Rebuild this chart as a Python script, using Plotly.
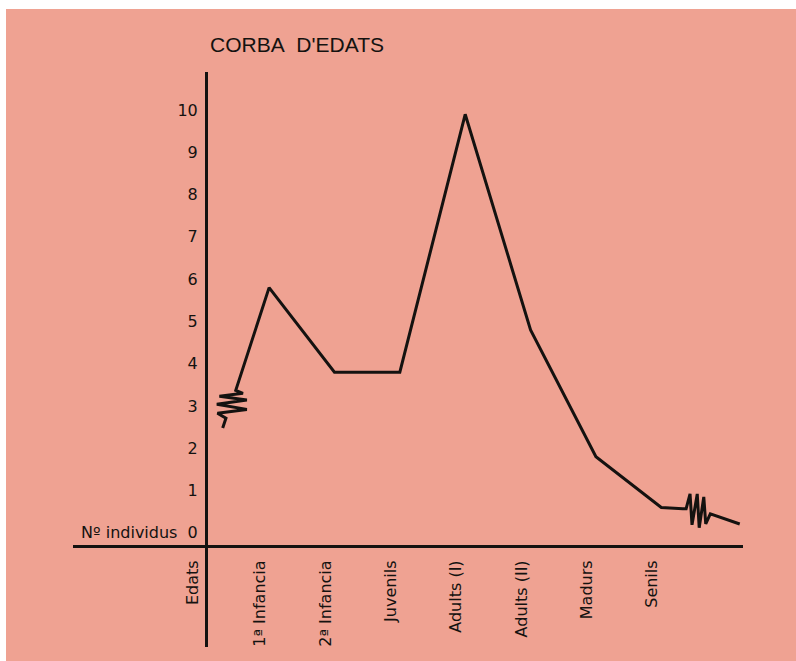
import plotly.graph_objects as go

# ---- data ----
categories = ["1ª Infancia", "2ª Infancia", "Juvenils", "Adults (I)", "Adults (II)", "Madurs", "Senils"]
individus = [5.8, 3.8, 3.8, 9.9, 4.8, 1.8, 0.6]
y_ticks = [0, 1, 2, 3, 4, 5, 6, 7, 8, 9, 10]
y_tick_labels = ["Nº individus\u00a0\u00a00", "1", "2", "3", "4", "5", "6", "7", "8", "9", "10"]
x_axis_name = "Edats"
title_text = "CORBA\u00a0\u00a0D'EDATS"

# break (squiggle) lead-in before first category, in data units
start_x = [0.29, 0.34, 0.21, 0.66, 0.20, 0.66, 0.24, 0.60, 0.49]
start_y = [2.48, 2.71, 2.83, 2.92, 3.04, 3.14, 3.23, 3.30, 3.37]
# break (squiggle) tail after last category
end_x = [7.33, 7.38, 7.44, 7.47, 7.55, 7.58, 7.65, 7.68, 7.75, 8.20]
end_y = [0.57, 0.57, 0.92, 0.19, 0.92, 0.12, 0.85, 0.21, 0.45, 0.21]

# ---- styling ----
INK = "#141210"
SALMON = "#EFA292"
TICK_FONT = "DejaVu Sans, Verdana, sans-serif"
TITLE_FONT = "Liberation Sans, Arial, sans-serif"
W, H = 796, 661
L, R, T, B = 73, 53, 72, 14
PW, PH = W - L - R, H - T - B
X_RANGE = [-2.0, 8.25]
Y_RANGE = [-2.7, 10.9]
LABEL_SHIFT = -0.14

xs = list(range(1, len(categories) + 1))

line_x = start_x + xs + end_x
line_y = start_y + individus + end_y

fig = go.Figure()
fig.add_trace(go.Scatter(
    x=line_x, y=line_y, mode="lines",
    line=dict(color=INK, width=3, shape="linear"),
    hoverinfo="skip", showlegend=False,
))

yaxis_pos = (206 - L) / PW
xaxis_pos = (H - B - 546) / PH

tickvals_x = [-0.17] + [x + LABEL_SHIFT for x in xs]
ticktext_x = [x_axis_name] + categories

# thin white page border (top and left) as in the scanned original
border_shapes = [
    dict(type="rect", xref="paper", yref="paper", layer="below",
         x0=-L / PW, x1=(W - L) / PW, y0=(H - B - 9) / PH, y1=(H - B) / PH,
         fillcolor="white", line=dict(width=0)),
    dict(type="rect", xref="paper", yref="paper", layer="below",
         x0=-L / PW, x1=(6 - L) / PW, y0=-B / PH, y1=(H - B) / PH,
         fillcolor="white", line=dict(width=0)),
]

fig.update_layout(
    width=W, height=H,
    margin=dict(l=L, r=R, t=T, b=B, pad=0),
    paper_bgcolor=SALMON,
    plot_bgcolor="rgba(0,0,0,0)",
    font=dict(family=TICK_FONT, color=INK, size=16),
    title=dict(
        text=title_text, x=(210 - L) / PW, xref="paper", xanchor="left",
        y=1 - 45 / H, yref="container", yanchor="middle",
        font=dict(family=TITLE_FONT, size=21, color=INK),
    ),
    xaxis=dict(
        range=X_RANGE, anchor="free", position=xaxis_pos,
        showline=True, linewidth=3, linecolor=INK,
        showgrid=False, zeroline=False, ticks="",
        tickmode="array", tickvals=tickvals_x, ticktext=ticktext_x,
        tickangle=-90, tickfont=dict(size=16, family=TICK_FONT, color=INK),
        ticklabelstandoff=6,
    ),
    yaxis=dict(
        range=Y_RANGE, anchor="free", position=yaxis_pos,
        showline=True, linewidth=3, linecolor=INK,
        showgrid=False, zeroline=False, ticks="",
        tickmode="array", tickvals=y_ticks, ticktext=y_tick_labels,
        tickfont=dict(size=16, family=TICK_FONT, color=INK),
        ticklabelstandoff=4,
    ),
    shapes=border_shapes,
)

fig.write_html(
    "out.html",
    config={"displayModeBar": False},
    post_script="document.body.style.margin='0';document.body.style.overflow='hidden';",
)
